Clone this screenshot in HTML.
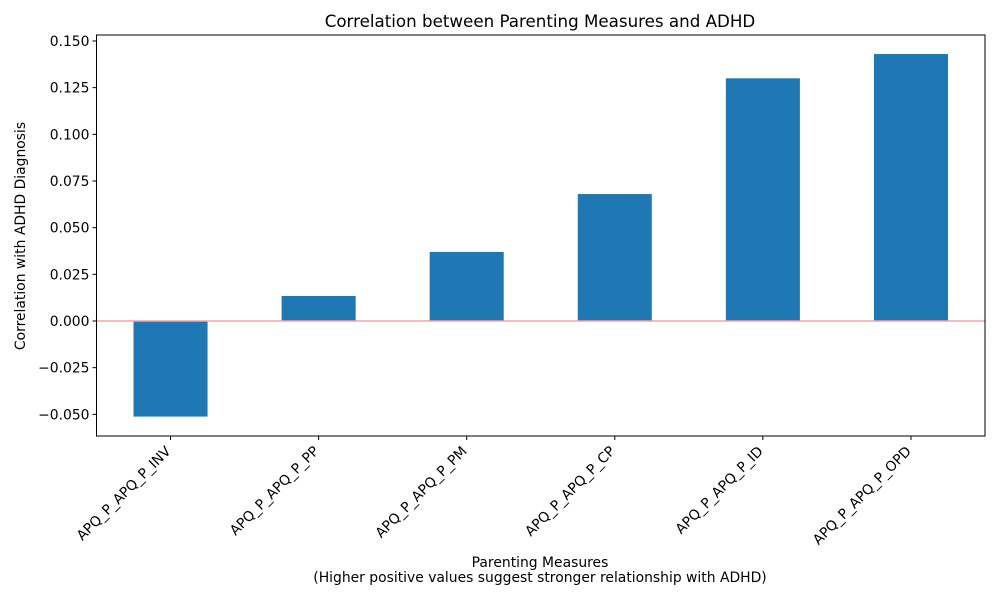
<!DOCTYPE html>
<html><head><meta charset="utf-8"><style>body{margin:0;background:#fff}svg{font-family:"DejaVu Sans","Liberation Sans",sans-serif}</style></head>
<body>
<svg id="chart" width="1000" height="600">
<rect width="1000" height="600" fill="#fff"/>
<text x="540" y="27" text-anchor="middle" font-size="16.7">Correlation between Parenting Measures and ADHD</text>
<g id="plot"></g>
<text x="540" y="567" text-anchor="middle" font-size="13.9">Parenting Measures</text>
<text x="540" y="582" text-anchor="middle" font-size="13.9">(Higher positive values suggest stronger relationship with ADHD)</text>
<text transform="translate(25,236) rotate(-90)" text-anchor="middle" font-size="13.9">Correlation with ADHD Diagnosis</text>
</svg>
<script>
const categories = ["APQ_P_APQ_P_INV","APQ_P_APQ_P_PP","APQ_P_APQ_P_PM","APQ_P_APQ_P_CP","APQ_P_APQ_P_ID","APQ_P_APQ_P_OPD"];
const values = [-0.0512, 0.0134, 0.0370, 0.0680, 0.1300, 0.1430];
const yTicks = [-0.050, -0.025, 0.000, 0.025, 0.050, 0.075, 0.100, 0.125, 0.150];
const yTickLabels = ["\u22120.050","\u22120.025","0.000","0.025","0.050","0.075","0.100","0.125","0.150"];

const L=96.5,R=985,T=35,B=436,yMin=-0.0616,yMax=0.1532;
const NS="http://www.w3.org/2000/svg";
const g=document.getElementById('plot');
function y(v){return B-(v-yMin)/(yMax-yMin)*(B-T);}
function x(i){return L+(i+0.5)/categories.length*(R-L);}
function mk(t,a){const e=document.createElementNS(NS,t);for(const k in a)e.setAttribute(k,a[k]);g.appendChild(e);return e;}
const bw=(R-L)/categories.length*0.5;
values.forEach((v,i)=>{
  const r=mk('rect',{x:x(i)-bw/2,y:Math.min(y(v),y(0)),width:bw,height:Math.abs(y(v)-y(0)),fill:'#1f77b4'});
  
  
});
const zl=mk('line',{x1:L,x2:R,y1:y(0),y2:y(0),stroke:'#f4a3a3','stroke-width':1.5});


yTicks.forEach((t,i)=>{
  const yy=y(t);
  mk('line',{x1:L-4,x2:L,y1:yy,y2:yy,stroke:'#000','stroke-width':1});
  const tx=mk('text',{x:L-7,y:yy+5,'text-anchor':'end','font-size':13.9});
  tx.textContent=yTickLabels[i];
  
  
});
categories.forEach((c,i)=>{
  const xx=x(i);
  mk('line',{x1:xx,x2:xx,y1:B,y2:B+4,stroke:'#000','stroke-width':1});
  const tx=mk('text',{transform:`translate(${xx+1},${B+16}) rotate(-45)`,'text-anchor':'end','font-size':13.9});
  tx.textContent=c;
  
  
});
const fr=mk('rect',{x:L,y:T,width:R-L,height:B-T,fill:'none',stroke:'#000','stroke-width':1});


</script>
</body></html>
